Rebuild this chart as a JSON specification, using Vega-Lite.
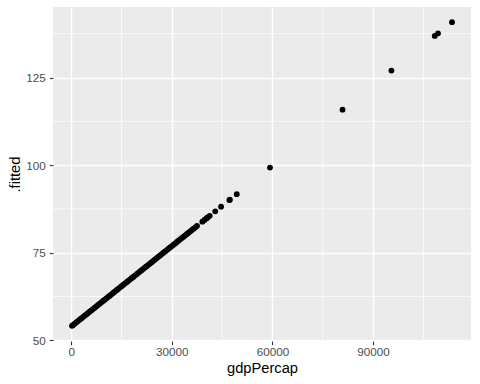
{
  "$schema": "https://vega.github.io/schema/vega-lite/v6.json",
  "width": 418,
  "height": 334,
  "autosize": "none",
  "padding": {"left": 53, "top": 7, "right": 9, "bottom": 43},
  "background": "white",
  "config": {
    "view": {"fill": "#EBEBEB", "stroke": null},
    "axis": {
      "domain": false,
      "grid": true,
      "gridColor": "white",
      "gridWidth": 1.4,
      "tickColor": "#333333",
      "tickSize": 3.7,
      "tickWidth": 1.1,
      "labelColor": "#4D4D4D",
      "labelFont": "Liberation Sans",
      "labelFontSize": 11.7,
      "titleFont": "Liberation Sans",
      "titleFontSize": 14.7,
      "titleFontWeight": "normal",
      "titleColor": "black",
      "labelPadding": 2,
      "labelFlush": false
    },
    "axisX": {"titlePadding": 2},
    "axisY": {"labelPadding": 4, "titlePadding": 3}
  },
  "datasets": {
    "minorx": [{"gdpPercap": 15000}, {"gdpPercap": 45000}, {"gdpPercap": 75000}, {"gdpPercap": 105000}],
    "minory": [{"fitted": 62.5}, {"fitted": 87.5}, {"fitted": 112.5}, {"fitted": 137.5}],
    "pts": [
      {"gdpPercap": 241, "fitted": 54.140},
      {"gdpPercap": 500, "fitted": 54.338},
      {"gdpPercap": 1000, "fitted": 54.721},
      {"gdpPercap": 1500, "fitted": 55.103},
      {"gdpPercap": 2000, "fitted": 55.486},
      {"gdpPercap": 2500, "fitted": 55.868},
      {"gdpPercap": 3000, "fitted": 56.251},
      {"gdpPercap": 3500, "fitted": 56.633},
      {"gdpPercap": 4000, "fitted": 57.016},
      {"gdpPercap": 4500, "fitted": 57.398},
      {"gdpPercap": 5000, "fitted": 57.781},
      {"gdpPercap": 5500, "fitted": 58.163},
      {"gdpPercap": 6000, "fitted": 58.545},
      {"gdpPercap": 6500, "fitted": 58.928},
      {"gdpPercap": 7000, "fitted": 59.310},
      {"gdpPercap": 7500, "fitted": 59.693},
      {"gdpPercap": 8000, "fitted": 60.075},
      {"gdpPercap": 8500, "fitted": 60.458},
      {"gdpPercap": 9000, "fitted": 60.840},
      {"gdpPercap": 9500, "fitted": 61.223},
      {"gdpPercap": 10000, "fitted": 61.605},
      {"gdpPercap": 10500, "fitted": 61.987},
      {"gdpPercap": 11000, "fitted": 62.370},
      {"gdpPercap": 11500, "fitted": 62.752},
      {"gdpPercap": 12000, "fitted": 63.135},
      {"gdpPercap": 12500, "fitted": 63.517},
      {"gdpPercap": 13000, "fitted": 63.900},
      {"gdpPercap": 13500, "fitted": 64.282},
      {"gdpPercap": 14000, "fitted": 64.665},
      {"gdpPercap": 14500, "fitted": 65.047},
      {"gdpPercap": 15000, "fitted": 65.430},
      {"gdpPercap": 15500, "fitted": 65.812},
      {"gdpPercap": 16000, "fitted": 66.194},
      {"gdpPercap": 16500, "fitted": 66.577},
      {"gdpPercap": 17000, "fitted": 66.959},
      {"gdpPercap": 17500, "fitted": 67.342},
      {"gdpPercap": 18000, "fitted": 67.724},
      {"gdpPercap": 18500, "fitted": 68.107},
      {"gdpPercap": 19000, "fitted": 68.489},
      {"gdpPercap": 19500, "fitted": 68.872},
      {"gdpPercap": 20000, "fitted": 69.254},
      {"gdpPercap": 20500, "fitted": 69.636},
      {"gdpPercap": 21000, "fitted": 70.019},
      {"gdpPercap": 21500, "fitted": 70.401},
      {"gdpPercap": 22000, "fitted": 70.784},
      {"gdpPercap": 22500, "fitted": 71.166},
      {"gdpPercap": 23000, "fitted": 71.549},
      {"gdpPercap": 23500, "fitted": 71.931},
      {"gdpPercap": 24000, "fitted": 72.314},
      {"gdpPercap": 24500, "fitted": 72.696},
      {"gdpPercap": 25000, "fitted": 73.079},
      {"gdpPercap": 25500, "fitted": 73.461},
      {"gdpPercap": 26000, "fitted": 73.843},
      {"gdpPercap": 26500, "fitted": 74.226},
      {"gdpPercap": 27000, "fitted": 74.608},
      {"gdpPercap": 27500, "fitted": 74.991},
      {"gdpPercap": 28000, "fitted": 75.373},
      {"gdpPercap": 28500, "fitted": 75.756},
      {"gdpPercap": 29000, "fitted": 76.138},
      {"gdpPercap": 29500, "fitted": 76.521},
      {"gdpPercap": 30000, "fitted": 76.903},
      {"gdpPercap": 30500, "fitted": 77.285},
      {"gdpPercap": 31000, "fitted": 77.668},
      {"gdpPercap": 31500, "fitted": 78.050},
      {"gdpPercap": 32000, "fitted": 78.433},
      {"gdpPercap": 32500, "fitted": 78.815},
      {"gdpPercap": 33000, "fitted": 79.198},
      {"gdpPercap": 33500, "fitted": 79.580},
      {"gdpPercap": 34000, "fitted": 79.963},
      {"gdpPercap": 34500, "fitted": 80.345},
      {"gdpPercap": 35000, "fitted": 80.728},
      {"gdpPercap": 35500, "fitted": 81.110},
      {"gdpPercap": 36000, "fitted": 81.492},
      {"gdpPercap": 36500, "fitted": 81.875},
      {"gdpPercap": 37000, "fitted": 82.257},
      {"gdpPercap": 37500, "fitted": 82.640},
      {"gdpPercap": 39097, "fitted": 83.862},
      {"gdpPercap": 39725, "fitted": 84.342},
      {"gdpPercap": 40301, "fitted": 84.782},
      {"gdpPercap": 40676, "fitted": 85.069},
      {"gdpPercap": 41283, "fitted": 85.534},
      {"gdpPercap": 42952, "fitted": 86.810},
      {"gdpPercap": 44684, "fitted": 88.135},
      {"gdpPercap": 47143, "fitted": 90.016},
      {"gdpPercap": 47307, "fitted": 90.141},
      {"gdpPercap": 49357, "fitted": 91.709},
      {"gdpPercap": 59265, "fitted": 99.288},
      {"gdpPercap": 80895, "fitted": 115.833},
      {"gdpPercap": 95458, "fitted": 126.972},
      {"gdpPercap": 108382, "fitted": 136.858},
      {"gdpPercap": 109348, "fitted": 137.597},
      {"gdpPercap": 113523, "fitted": 140.790}
    ]
  },
  "layer": [
    {
      "data": {"name": "minorx"},
      "mark": {"type": "rule", "color": "white", "strokeWidth": 0.7},
      "encoding": {
        "x": {"field": "gdpPercap", "type": "quantitative", "title": "gdpPercap",
              "scale": {"domain": [-5423, 119187], "nice": false, "zero": false},
              "axis": {"values": [0, 30000, 60000, 90000], "format": "d"}}
      }
    },
    {
      "data": {"name": "minory"},
      "mark": {"type": "rule", "color": "white", "strokeWidth": 0.7},
      "encoding": {
        "y": {"field": "fitted", "type": "quantitative", "title": ".fitted",
              "scale": {"domain": [49.81, 145.12], "nice": false, "zero": false},
              "axis": {"values": [50, 75, 100, 125]}}
      }
    },
    {
      "data": {"name": "pts"},
      "mark": {"type": "circle", "size": 34, "color": "black", "opacity": 1},
      "encoding": {
        "x": {"field": "gdpPercap", "type": "quantitative", "title": "gdpPercap",
              "scale": {"domain": [-5423, 119187], "nice": false, "zero": false},
              "axis": {"values": [0, 30000, 60000, 90000], "format": "d"}},
        "y": {"field": "fitted", "type": "quantitative", "title": ".fitted",
              "scale": {"domain": [49.81, 145.12], "nice": false, "zero": false},
              "axis": {"values": [50, 75, 100, 125]}}
      }
    }
  ]
}
